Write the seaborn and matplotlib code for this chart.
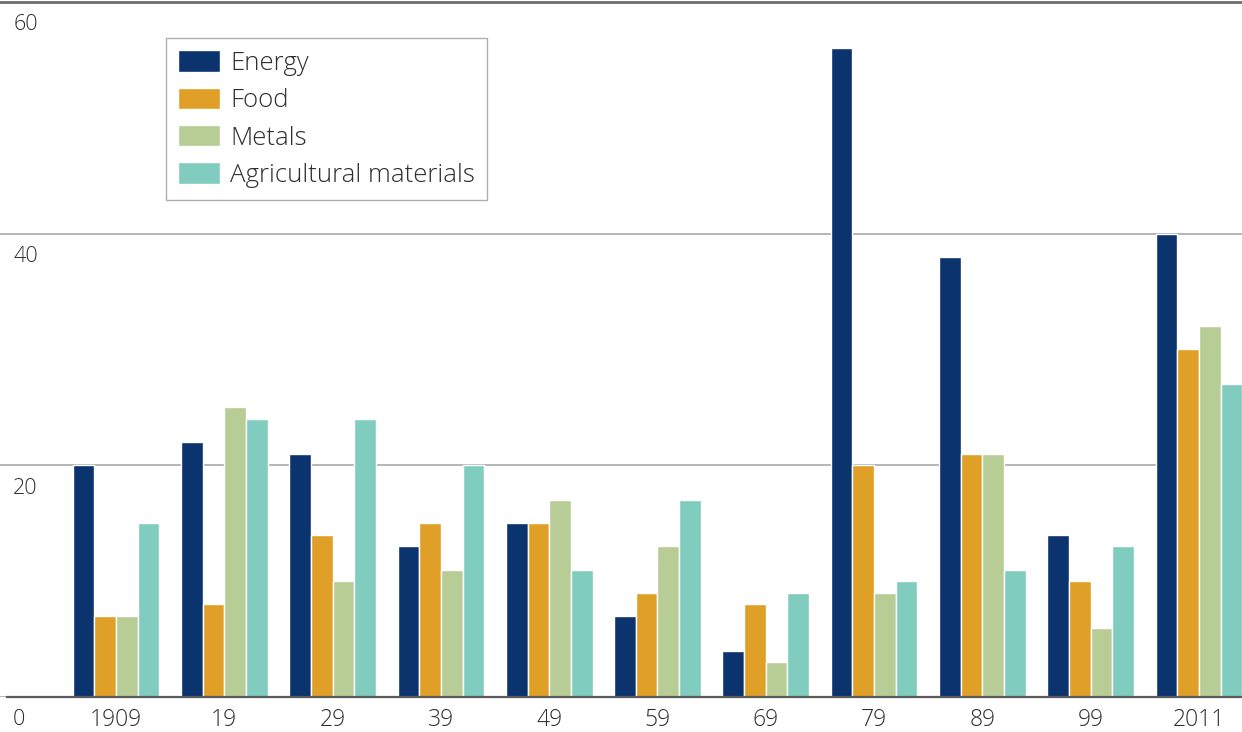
import matplotlib
matplotlib.use("Agg")
import matplotlib.pyplot as plt
import seaborn as sns
import pandas as pd

# Decade labels along the x axis
years = ["1909", "19", "29", "39", "49", "59", "69", "79", "89", "99", "2011"]

# Series values per commodity group
energy = [20, 22, 21, 13, 15, 7, 4, 56, 38, 14, 40]
food = [7, 8, 14, 15, 15, 9, 8, 20, 21, 10, 30]
metals = [7, 25, 10, 11, 17, 13, 3, 9, 21, 6, 32]
agri = [15, 24, 24, 20, 11, 17, 9, 10, 11, 13, 27]

series_names = ["Energy", "Food", "Metals", "Agricultural materials"]
series_values = [energy, food, metals, agri]
colors = ["#0b336e", "#e09f27", "#b8cd95", "#80ccbf"]

y_ticks = [0, 20, 40, 60]
y_tick_labels = ["0", "20", "40", "60"]

rows = []
for name, vals in zip(series_names, series_values):
    for yr, v in zip(years, vals):
        rows.append({"year": yr, "commodity": name, "value": v})
df = pd.DataFrame(rows)

sns.set_theme(style="white")
plt.rcParams["font.family"] = ["Open Sans", "DejaVu Sans"]
plt.rcParams["font.weight"] = "light"
text_color = "#2e2e2e"

fig = plt.figure(figsize=(12.42, 7.32), dpi=100)
ax = fig.add_axes([0.0, 0.0478, 1.0, 0.9495])

sns.barplot(
    data=df, x="year", y="value", hue="commodity",
    order=years, hue_order=series_names, palette=colors,
    edgecolor="white", linewidth=1.0, saturation=1.0, ax=ax,
)

ax.set_xlim(-1.071, 10.397)
ax.set_ylim(0, 60)
ax.set_xlabel("")
ax.set_ylabel("")

# Horizontal gridlines behind the bars
ax.set_axisbelow(True)
ax.set_yticks(y_ticks)
ax.yaxis.grid(True, color="#a9a9a9", linewidth=1.2)
ax.xaxis.grid(False)
ax.tick_params(axis="y", length=0, labelleft=False)
ax.tick_params(axis="x", length=0, pad=8, labelsize=16.5, labelcolor=text_color)

for side in ["left", "right"]:
    ax.spines[side].set_visible(False)
ax.spines["top"].set_color("#6e6e6e")
ax.spines["top"].set_linewidth(2.0)
ax.spines["bottom"].set_color("#5a5a5a")
ax.spines["bottom"].set_linewidth(1.6)
ax.spines["bottom"].set_bounds(-1.006, 10.397)

# Value labels sit just under each gridline, at the left edge
for v, lab in zip(y_ticks, y_tick_labels):
    ax.annotate(
        lab, xy=(0, v), xycoords=("axes fraction", "data"),
        xytext=(9.5, -8.8), textcoords="offset points",
        ha="left", va="top", fontsize=15.5, color=text_color,
        annotation_clip=False,
    )

handles, labels = ax.get_legend_handles_labels()
leg = ax.legend(
    handles, labels,
    loc="upper left", bbox_to_anchor=(0.1337, 0.948), borderaxespad=0,
    fontsize=18.5, frameon=True, fancybox=False,
    handlelength=1.62, handleheight=0.9, handletextpad=0.39,
    labelspacing=0.46, borderpad=0.48,
)
leg.get_frame().set_edgecolor("#9a9a9a")
leg.get_frame().set_linewidth(1.0)
for t in leg.get_texts():
    t.set_color(text_color)

fig.savefig("out.png", dpi=100)
